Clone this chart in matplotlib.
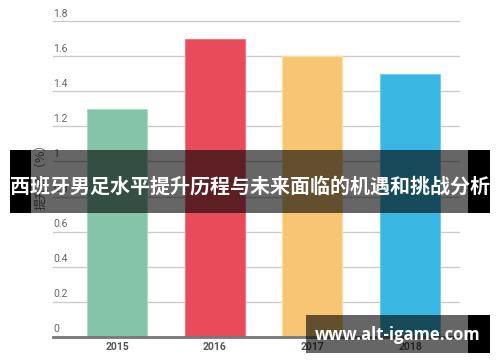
import matplotlib
matplotlib.use("Agg")
import matplotlib.pyplot as plt
from matplotlib.patches import Rectangle

years = ["2015", "2016", "2017", "2018"]
values = [1.3, 1.7, 1.6, 1.5]
colors = ["#86C4A9", "#E94B5B", "#F8C673", "#39B7E2"]
edges = ["#A9DCC4", "#F27483", "#FCDDA0", "#6FCDEE"]
yticks = [0, 0.2, 0.4, 0.6, 0.8, 1.0, 1.2, 1.4, 1.6, 1.8]
ylabel = "提升比（%）"
title = "西班牙男足水平提升历程与未来面临的机遇和挑战分析"
watermark = "www.alt-igame.com"

W, H = 500, 362
fig = plt.figure(figsize=(W / 100, H / 100), dpi=100)
fig.patch.set_facecolor("white")

def fx(px):
    return px / W

def fy(py):
    return 1 - py / H

ax = fig.add_axes([fx(53), fy(336.7), fx(459 - 53), (336.7 - 21.3) / H])
x = list(range(len(years)))
ax.bar(x, values, width=0.614, color=colors, edgecolor=edges, linewidth=0.8, zorder=3)
ax.set_xlim(-0.655, 3.5)
ax.set_ylim(0, 1.8)
for s in ["top", "right", "left"]:
    ax.spines[s].set_visible(False)
ax.spines["bottom"].set_color("#777777")
ax.spines["bottom"].set_linewidth(2)
ax.spines["bottom"].set_zorder(4)
ax.set_yticks(yticks)
ax.yaxis.grid(True, color="#CCCCCC", linewidth=1, zorder=0)
for l in ax.get_ygridlines():
    l.set_clip_on(False)
ax.tick_params(axis="y", length=0, labelleft=False)
for t in yticks:
    ax.annotate("{:g}".format(t), xy=(0, t), xycoords=ax.get_yaxis_transform(),
                xytext=(0, 2), textcoords="offset points", ha="left", va="bottom",
                fontsize=7.5, color="#666666", family="Roboto")
ax.set_xticks(x)
ax.set_xticklabels(years, fontsize=7.5, color="#555555", family="Roboto", fontweight="bold")
ax.tick_params(axis="x", length=0, pad=3.5)
ax.set_ylabel(ylabel, fontsize=8.8, color="#666666", family=["Noto Sans CJK SC", "DejaVu Sans"])
ax.yaxis.set_label_coords((47 - 53) / (459 - 53), (336.7 - 174) / (336.7 - 21.3))

# banner
def frect(x0, y0, x1, y1, alpha):
    fig.patches.append(Rectangle((fx(x0), fy(y1)), fx(x1 - x0), (y1 - y0) / H,
                                 transform=fig.transFigure, facecolor="black",
                                 alpha=alpha, edgecolor="none", zorder=10))

frect(10, 150, 31, 213, 1.0)
frect(31, 150, 468, 213, 0.6)
frect(468, 150, 490, 213, 1.0)
fig.text(fx(250), fy(186), title, ha="center", va="center", color="white",
         fontsize=14.4, fontweight="bold", family=["Noto Sans CJK SC", "DejaVu Sans"], zorder=11)

frect(306, 315, 468, 353, 0.6)
frect(468, 315, 490, 353, 1.0)
fig.text(fx(398), fy(335.5), watermark, ha="center", va="center", color="white",
         fontsize=12, fontweight="bold", family="Open Sans", zorder=11)

fig.savefig("out.png", dpi=100, facecolor="white")
